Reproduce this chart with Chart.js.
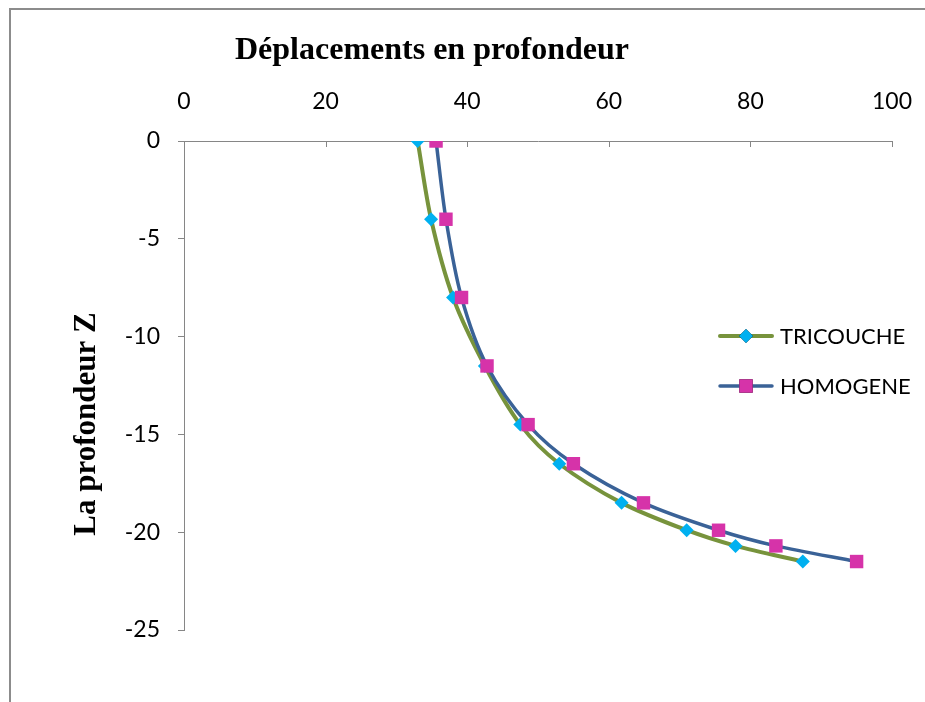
<!DOCTYPE html>
<html>
<head>
<meta charset="utf-8">
<script src="https://cdn.jsdelivr.net/npm/chart.js@4"></script>
<style>
  html, body { margin: 0; padding: 0; background: #fff; }
  #wrap { position: relative; width: 925px; height: 702px; overflow: hidden; }
  #frame { position: absolute; left: 9px; top: 8px; width: 1000px; height: 800px;
           border-left: 2px solid #8c8c8c; border-top: 2px solid #8c8c8c; }
  canvas { position: absolute; left: 0; top: 0; }
</style>
</head>
<body>
<div id="wrap">
  <div id="frame"></div>
  <canvas id="chart" width="925" height="702"></canvas>
</div>
<script>
// profondeur Z
var depth = [0, -4, -8, -11.5, -14.5, -16.5, -18.5, -19.9, -20.7, -21.5];
// déplacements
var tricouche = [33.0, 34.9, 38.0, 42.5, 47.5, 53.0, 61.8, 71.0, 77.9, 87.4];
var homogene = [35.6, 37.0, 39.2, 42.8, 48.6, 55.0, 64.9, 75.5, 83.6, 95.0];
var seriesNames = ['TRICOUCHE', 'HOMOGENE'];
var chartTitle = 'Déplacements en profondeur';
var yTitle = 'La profondeur Z';

function points(xs) {
    return xs.map(function (v, i) { return { x: v, y: depth[i] }; });
}

var tickFont = { family: 'Lato', size: 23 };
var axisGrey = '#868686';

// petites graduations vers le bas sur l'axe du haut
var topTicks = {
    id: 'topTicks',
    afterDatasetsDraw: function (chart) {
        var ctx = chart.ctx, x = chart.scales.x, top = chart.chartArea.top;
        ctx.save();
        ctx.strokeStyle = axisGrey;
        ctx.lineWidth = 1;
        x.ticks.forEach(function (t) {
            var px = Math.round(x.getPixelForValue(t.value)) + 0.5;
            ctx.beginPath();
            ctx.moveTo(px, top);
            ctx.lineTo(px, top + 6);
            ctx.stroke();
        });
        ctx.restore();
    }
};

// titres (placés comme dans Excel)
var titles = {
    id: 'titles',
    afterDraw: function (chart) {
        var ctx = chart.ctx;
        ctx.save();
        ctx.fillStyle = '#000';
        ctx.font = 'bold 32px "Liberation Serif"';
        ctx.textAlign = 'center';
        ctx.textBaseline = 'alphabetic';
        ctx.fillText(chartTitle, 432, 59);
        ctx.translate(95, 424);
        ctx.rotate(-Math.PI / 2);
        ctx.font = 'bold 31px "Liberation Serif"';
        ctx.fillText(yTitle, 0, 0);
        ctx.restore();
    }
};

// légende à l'intérieur du graphique
var insideLegend = {
    id: 'insideLegend',
    afterDraw: function (chart) {
        var ctx = chart.ctx;
        var x0 = 720, y0 = 336, gap = 50;
        chart.data.datasets.forEach(function (ds, i) {
            var y = y0 + i * gap;
            ctx.save();
            ctx.strokeStyle = ds.borderColor;
            ctx.lineWidth = ds.borderWidth;
            ctx.lineCap = 'round';
            ctx.beginPath();
            ctx.moveTo(x0, y);
            ctx.lineTo(x0 + 52, y);
            ctx.stroke();
            Chart.helpers.drawPoint(ctx, {
                pointStyle: ds.pointStyle,
                radius: ds.pointRadius,
                borderWidth: 0
            }, x0 + 26, y);
            ctx.fillStyle = ds.pointBackgroundColor;
            ctx.fill();
            ctx.fillStyle = '#000';
            ctx.font = '22px Lato';
            ctx.textBaseline = 'middle';
            ctx.fillText(ds.label, x0 + 60, y + 1);
            ctx.restore();
        });
    }
};

new Chart(document.getElementById('chart'), {
    type: 'scatter',
    data: {
        datasets: [{
            label: seriesNames[0],
            data: points(tricouche),
            showLine: true,
            tension: 0.3,
            borderColor: '#77933C',
            borderWidth: 4,
            pointStyle: 'rectRot',
            pointRadius: 7,
            pointBorderWidth: 0,
            pointBackgroundColor: '#00B0F0',
            order: 2
        }, {
            label: seriesNames[1],
            data: points(homogene),
            showLine: true,
            tension: 0.3,
            borderColor: '#3A6297',
            borderWidth: 3.5,
            pointStyle: 'rect',
            pointRadius: 9.5,
            pointBorderWidth: 0,
            pointBackgroundColor: '#D633A9',
            order: 1
        }]
    },
    options: {
        responsive: false,
        animation: false,
        layout: { padding: { left: 0, top: 0, right: 33, bottom: 72 } },
        plugins: {
            legend: { display: false },
            tooltip: { enabled: false },
            title: { display: false }
        },
        scales: {
            x: {
                type: 'linear',
                position: 'top',
                min: 0,
                max: 100,
                ticks: { stepSize: 20, font: tickFont, color: '#000', padding: 26 },
                grid: { display: true, drawOnChartArea: false, drawTicks: false },
                border: { color: axisGrey, width: 1 },
                afterFit: function (s) { s.height = 141; s.paddingLeft = 0; s.paddingRight = 0; }
            },
            y: {
                type: 'linear',
                min: -25,
                max: 0,
                ticks: { stepSize: 5, font: tickFont, color: '#000', padding: 18 },
                grid: { display: true, drawOnChartArea: false, drawTicks: true, tickLength: 6, color: axisGrey },
                border: { color: axisGrey, width: 1 },
                title: { display: false, text: yTitle },
                afterFit: function (s) { s.width = 184; s.paddingTop = 0; s.paddingBottom = 0; }
            }
        }
    },
    plugins: [topTicks, titles, insideLegend]
});
</script>
</body>
</html>
